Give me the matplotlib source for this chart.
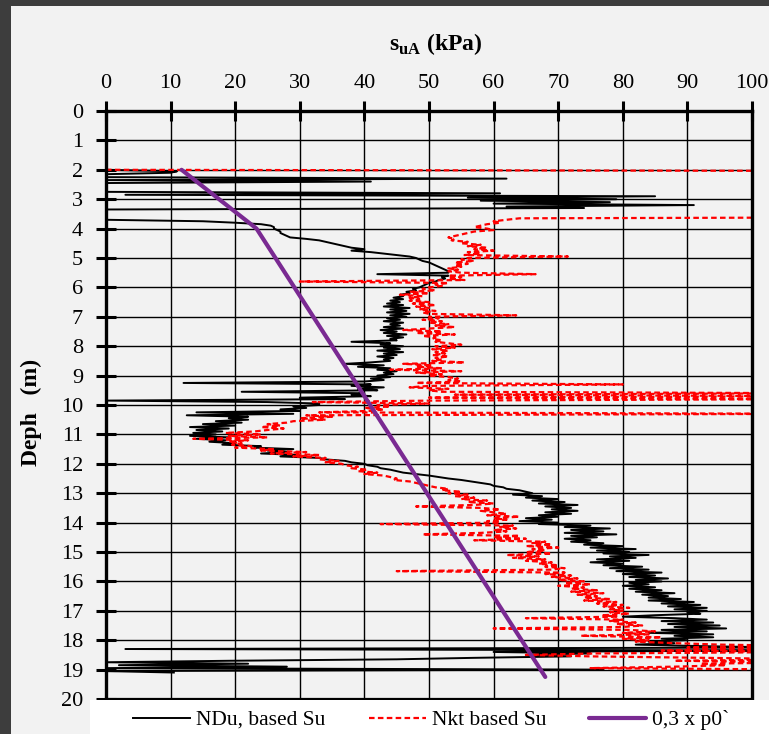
import numpy as np
import matplotlib.pyplot as plt
from matplotlib.patches import Rectangle

plt.rcParams['font.family'] = 'Liberation Serif'
plt.rcParams['mathtext.fontset'] = 'custom'
plt.rcParams['mathtext.rm'] = 'Liberation Serif'
plt.rcParams['mathtext.bf'] = 'Liberation Serif:bold'

# NDu based Su (kPa), one reading every 0.05 m from 2.00 m
ndu_su = [
    0, 11, 10, 0, 0, 0, 62, 0, 41, 0, 0, 0, 0, 0, 0, 0, 61, 3, 85, 56,
    79, 58, 78, 60, 91, 62, 74, 0, 0, 0, 0, 0, 0, 0, 0, 15, 20, 24, 25.5, 26,
    26, 26.5, 27, 27, 27.5, 28, 28.5, 31, 33, 34, 35, 36, 37, 38, 40, 38, 41, 43, 45, 47,
    48, 48.5, 49, 50, 50.5, 51, 51.5, 52, 52.5, 53, 53, 42, 53, 52, 52.5, 51.5, 51, 50, 49.5, 49,
    48.5, 47.5, 48, 46.5, 47, 45.5, 46, 44.5, 46, 44, 45.5, 43.5, 46, 43, 47, 44, 46.5, 43.5, 47, 44,
    46.5, 43.5, 45.5, 43, 46, 44, 45.5, 43, 46, 42.5, 45, 43, 46.5, 43.5, 46, 44, 45, 38, 44, 42.5,
    46, 43, 45.5, 42, 46, 43, 45, 42, 44.5, 43, 44, 41, 37, 43, 39, 44, 42, 45, 43, 44.5,
    42, 44, 41, 43, 40, 12, 41, 38, 43, 39, 42, 21, 40, 38, 41, 30, 37, 0, 25, 33,
    33, 29, 31, 27, 30, 14, 29, 12.5, 22, 19, 22, 17, 21, 15, 20, 13, 19, 14, 18, 13.5,
    17, 13, 19, 14, 18.5, 16, 20, 18, 24, 23, 29, 25, 28, 24, 30, 27, 33, 34, 37, 38,
    40, 40.5, 42, 42.5, 44, 45, 46, 48, 50, 51.5, 53, 55, 56.5, 58, 59.5, 60, 61.5, 62, 64, 65,
    66, 63, 67.5, 65, 70, 66, 71, 67, 73, 68, 72, 69, 73, 68, 72, 67, 70, 65, 69, 64,
    70, 67, 75, 71, 78, 72, 77, 71, 79, 72, 76, 71, 75, 72, 77, 74, 80, 75, 82, 76,
    81, 77, 84, 78, 82, 76, 81, 75, 80, 77, 83, 78, 84, 79, 86, 80, 85, 81, 87, 82,
    86, 81, 84, 80, 85, 81, 86, 82, 88, 83, 87, 84, 89, 84, 91, 86, 92, 87, 93, 88,
    93, 90, 92, 85, 80, 88, 93, 86, 94, 87, 95, 88, 96, 86, 93, 84, 94, 88, 94, 86,
    90, 84, 88, 82, 92, 105, 3, 105, 60, 75, 65, 72, 57, 45, 19, 0, 22, 2, 28, 0,
    77, 0, 10.5,
]

# Nkt based Su (kPa), one reading every 0.05 m from 2.00 m
nkt_su = [
    0, 150, 150, 150, 150, 150, 150, 150, 150, 150, 150, 150, 150, 150, 150, 150, 150, 150, 150, 150,
    150, 150, 150, 150, 150, 150, 150, 150, 150, 150, 150, 150, 150, 64, 62, 60, 61, 59, 58, 57,
    59, 60, 57, 56, 55, 54, 53, 54, 53.5, 56, 55, 58, 56, 59, 57, 60, 56, 58, 55.5, 71.5,
    56, 55, 57, 54, 56, 54, 55, 53, 54.5, 53, 55, 66.5, 53, 55, 53, 55.5, 30, 53, 51, 52,
    50, 49, 51, 47, 50, 45.5, 49, 47, 48.5, 47, 50, 47.5, 51, 48, 50, 48.5, 51, 49, 50, 63.5,
    50, 51.5, 49, 52, 50, 53, 51, 54, 50, 46, 52, 48, 54, 49, 51, 50.5, 52, 51, 53, 55,
    51, 54, 50.5, 53, 51, 52.5, 50.5, 53, 51, 52, 50.5, 55.5, 46, 50.5, 48, 52, 44, 55, 48, 52,
    50, 53, 54.5, 53, 55, 48, 80, 50, 47, 53, 50, 52, 110, 54, 110, 50, 110, 50.5, 32, 50,
    42, 44, 40, 43, 41, 33, 110, 31, 35, 30, 34, 29, 28, 25, 27, 24, 27.5, 25, 23, 18.5,
    24, 19, 25, 13.5, 22, 19, 21, 19.5, 22.5, 20, 26, 24, 31, 25.5, 33, 29, 34, 33, 36, 34,
    36.5, 37, 39, 38, 40.5, 39, 42, 40, 43, 44, 45, 44.5, 47, 48, 49, 50, 51, 53, 52, 55,
    53, 56, 54, 57, 55, 59, 56, 60, 57, 48, 58, 61, 58, 60, 62, 59, 64, 60, 62, 59,
    61, 42.5, 63, 61, 63.5, 60, 62, 58, 49, 64, 60, 65, 57, 68, 66, 69, 65, 70, 66, 68,
    65, 69, 62, 67, 63, 68, 65, 69, 67, 70, 68, 71, 69, 45, 71, 68, 72, 69, 73, 70,
    74, 71, 75, 70, 74, 72, 76, 72, 77, 73, 76, 74, 78, 74, 79, 76, 80, 77, 81, 78,
    80, 78, 81, 77, 79, 65, 80, 78, 82, 79, 83, 80, 60, 81, 85, 80, 84, 73.5, 86, 80,
    84, 82, 88, 95, 110, 90, 110, 86, 110, 76, 65, 75, 93, 110, 88, 110, 92, 96, 88, 75,
    110,
]

# 0,3 x p0' line
p0_depth = [2.0, 4.0, 19.25]
p0_su = [11.7, 23.3, 68.0]

depth_ndu = 2.0 + 0.05 * np.arange(len(ndu_su))
depth_nkt = 2.0 + 0.05 * np.arange(len(nkt_su))

W, H = 769, 734
fig = plt.figure(figsize=(W / 100, H / 100), dpi=100)
fig.patch.set_facecolor('#3d3d3d')
fig.add_artist(Rectangle((11 / W, 0), 1, 1 - 6 / H, transform=fig.transFigure,
                         facecolor='#f2f2f2', edgecolor='none', zorder=-10))

ax = fig.add_axes([106 / W, 1 - 699 / H, (752 - 106) / W, (699 - 111) / H])
ax.set_facecolor('#f2f2f2')

l1, = ax.plot(ndu_su, depth_ndu, color='black', lw=1.4, label='NDu, based Su')
l2, = ax.plot(nkt_su, depth_nkt, color='red', lw=1.6, ls=(0, (2.5, 1.5)),
              label='Nkt based Su')
l3, = ax.plot(p0_su, p0_depth, color='#7a2a92', lw=3, solid_capstyle='round',
              label='0,3 x p0`')

ax.set_xlim(0, 100)
ax.set_ylim(20, 0)
ax.set_xticks(range(0, 101, 10))
ax.set_yticks(range(0, 21))
ax.grid(True, color='black', lw=1.0)
ax.set_axisbelow(True)
ax.tick_params(axis='x', top=True, bottom=False, labeltop=True, labelbottom=False)
ax.tick_params(direction='inout', length=14, width=2.2, labelsize=16)
ax.tick_params(axis='x', pad=6)
ax.tick_params(axis='y', pad=9.5)
for side, w in [('left', 2.4), ('top', 2.4), ('right', 2.4), ('bottom', 1.6)]:
    ax.spines[side].set_linewidth(w)

fig.text(436 / W, 1 - 44 / H, r'$\mathbf{s}_{\mathbf{uA}}$ (kPa)', ha='center', va='center',
         fontsize=17, fontweight='bold')
fig.text(31 / W, 1 - 412 / H, 'Deph   (m)', rotation=90, ha='center', va='center',
         fontsize=17, fontweight='bold')

fig.add_artist(Rectangle((90 / W, 0), 1, 1 - 700 / H, transform=fig.transFigure,
                         facecolor='white', edgecolor='none', zorder=5))
leg = fig.legend(handles=[l1, l2, l3], loc='center left', ncol=3, frameon=False,
                 bbox_to_anchor=(133 / W, 1 - 720 / H), fontsize=15.5, borderpad=0,
                 handlelength=2.65, handletextpad=0.28, columnspacing=2.0, borderaxespad=0)
leg.set_zorder(6)

fig.savefig('out.png', dpi=100, facecolor=fig.get_facecolor())
